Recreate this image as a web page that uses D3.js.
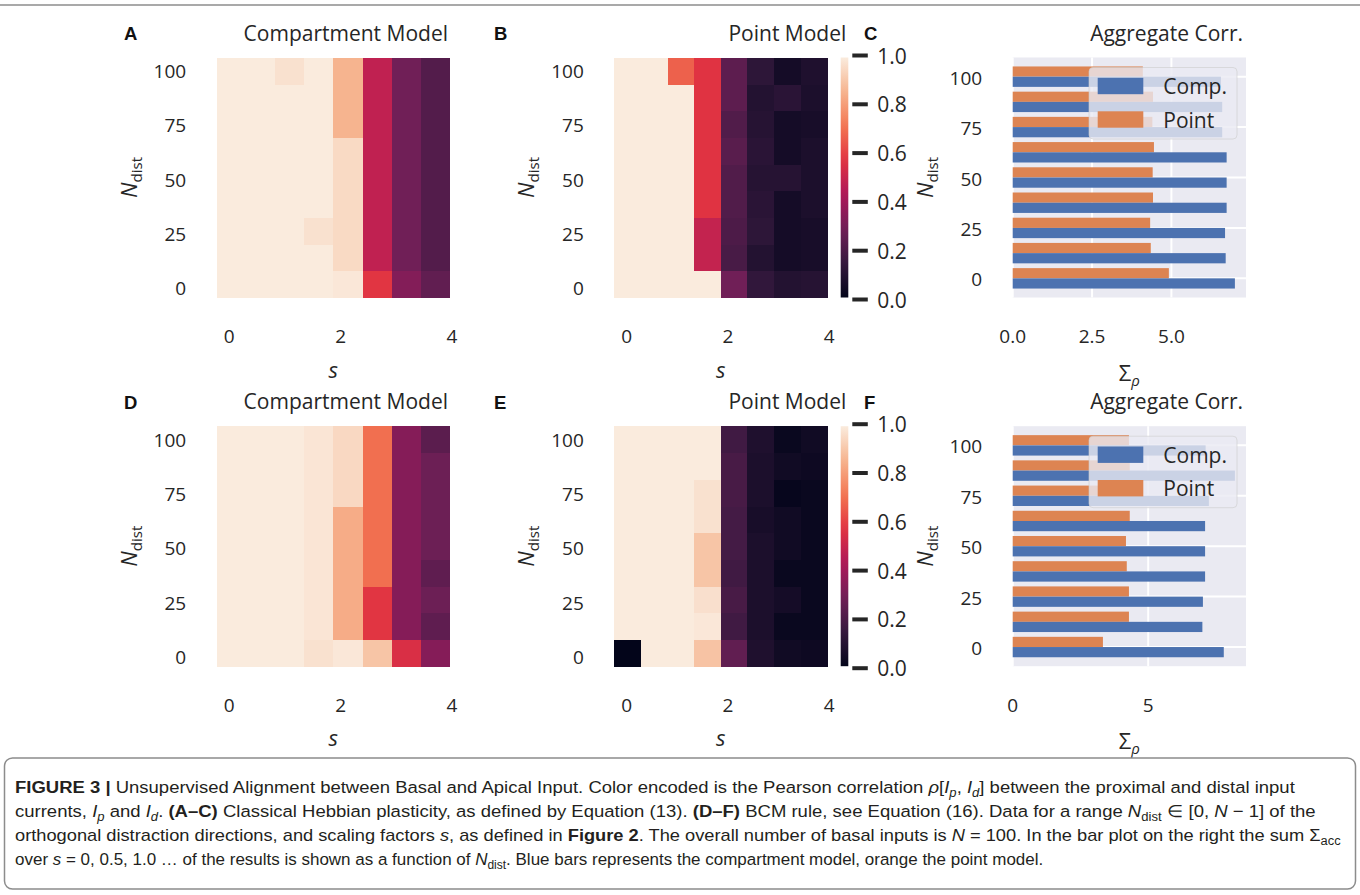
<!DOCTYPE html>
<html><head><meta charset="utf-8">
<script src="https://cdn.jsdelivr.net/npm/d3@7"></script>
<style>
body{margin:0;background:#fff}
svg{display:block}
text{font-family:"Open Sans","Noto Sans",sans-serif;fill:#262626}
</style>
</head><body><svg id="c" width="1360" height="895"></svg>
<script>
// ---------------- data ----------------
const sValues = [0, 0.5, 1, 1.5, 2, 2.5, 3, 3.5];
const nDist = [0, 12.5, 25, 37.5, 50, 62.5, 75, 87.5, 100];
const sTicks = [0, 2, 4];
const nTicks = [0, 25, 50, 75, 100];
const cbTicks = [0, 0.2, 0.4, 0.6, 0.8, 1.0];
const sumTicksC = [0, 2.5, 5.0];
const sumTicksF = [0, 5];
const seriesNames = ["Comp.", "Point"];

// correlation heatmaps; row i = nDist[i], column j = sValues[j]
const compHebbian = [
  [1, 1, 1, 1, 0.99, 0.575, 0.33, 0.25],
  [1, 1, 1, 1, 0.955, 0.48, 0.285, 0.215],
  [1, 1, 1, 0.975, 0.955, 0.48, 0.285, 0.215],
  [1, 1, 1, 1, 0.955, 0.48, 0.285, 0.215],
  [1, 1, 1, 1, 0.955, 0.48, 0.285, 0.215],
  [1, 1, 1, 1, 0.955, 0.48, 0.285, 0.215],
  [1, 1, 1, 1, 0.857, 0.48, 0.285, 0.215],
  [1, 1, 1, 1, 0.857, 0.48, 0.285, 0.215],
  [1, 1, 0.975, 1, 0.857, 0.48, 0.285, 0.215]
];
const pointHebbian = [
  [1, 1, 1, 1, 0.285, 0.13, 0.09, 0.10],
  [1, 1, 1, 0.49, 0.19, 0.09, 0.05, 0.06],
  [1, 1, 1, 0.49, 0.20, 0.12, 0.05, 0.06],
  [1, 1, 1, 0.57, 0.21, 0.11, 0.05, 0.07],
  [1, 1, 1, 0.57, 0.21, 0.10, 0.10, 0.07],
  [1, 1, 1, 0.57, 0.23, 0.11, 0.05, 0.07],
  [1, 1, 1, 0.57, 0.21, 0.10, 0.05, 0.06],
  [1, 1, 1, 0.57, 0.24, 0.09, 0.11, 0.07],
  [1, 1, 0.67, 0.57, 0.24, 0.12, 0.05, 0.08]
];
const compBCM = [
  [1, 1, 1, 0.975, 0.99, 0.90, 0.55, 0.335],
  [1, 1, 1, 0.985, 0.838, 0.575, 0.335, 0.245],
  [1, 1, 1, 0.985, 0.838, 0.575, 0.335, 0.275],
  [1, 1, 1, 0.985, 0.838, 0.70, 0.335, 0.245],
  [1, 1, 1, 0.985, 0.838, 0.70, 0.335, 0.275],
  [1, 1, 1, 0.985, 0.838, 0.70, 0.335, 0.275],
  [1, 1, 1, 0.985, 0.95, 0.70, 0.335, 0.275],
  [1, 1, 1, 0.985, 0.95, 0.70, 0.335, 0.275],
  [1, 1, 1, 0.985, 0.95, 0.70, 0.335, 0.235]
];
const pointBCM = [
  [0, 1, 1, 0.895, 0.25, 0.08, 0.04, 0.03],
  [1, 1, 1, 0.99, 0.17, 0.07, 0.02, 0.02],
  [1, 1, 1, 0.97, 0.19, 0.07, 0.05, 0.02],
  [1, 1, 1, 0.90, 0.17, 0.07, 0.02, 0.02],
  [1, 1, 1, 0.90, 0.18, 0.07, 0.04, 0.02],
  [1, 1, 1, 0.975, 0.18, 0.06, 0.04, 0.02],
  [1, 1, 1, 0.975, 0.19, 0.07, 0.01, 0.02],
  [1, 1, 1, 1, 0.19, 0.07, 0.04, 0.03],
  [1, 1, 1, 1, 0.17, 0.08, 0.02, 0.04]
];
// aggregate sums over s, per nDist
const sumCompHebbian = [7.0, 6.71, 6.69, 6.74, 6.74, 6.74, 6.60, 6.60, 6.56];
const sumPointHebbian = [4.92, 4.35, 4.33, 4.42, 4.41, 4.45, 4.40, 4.42, 4.10];
const sumCompBCM = [7.79, 7.0, 7.02, 7.10, 7.10, 7.10, 7.24, 8.2, 7.12];
const sumPointBCM = [3.33, 4.29, 4.29, 4.21, 4.18, 4.32, 4.30, 4.32, 4.29];

// ---------------- drawing ----------------
const svg = d3.select("#c");
const rocketColors = ["#03051a","#35193e","#701f57","#ad1759","#e13342","#f37651","#f6b48f","#faebdd"];
const rocket = d3.scaleSequential(d3.piecewise(d3.interpolateRgb, rocketColors)).domain([0, 1]);
const BLUE = "#4c72b0", ORANGE = "#dd8452";

// top rule
svg.append("line").attr("x1", 0).attr("x2", 1360).attr("y1", 5).attr("y2", 5)
  .attr("stroke", "#8c8c8c").attr("stroke-width", 1.5);

const H = 240;
const rowsY = [57.5, 426.2];
const colA = {x: 216.7, w: 233.3};
const colB = {x: 614.3, w: 213};
const colCb = {x: 840.7, w: 7.6};
const colC = {x: 1012.7, w: 233.3};

function ndistLabel(g, x, yc) {
  const t = g.append("text").attr("transform", `translate(${x},${yc}) rotate(-90)`)
    .attr("text-anchor", "middle").style("font-size", "22px");
  t.append("tspan").text("N").style("font-style", "italic");
  t.append("tspan").text("dist").attr("dy", 5).style("font-size", "15px");
}

function title(g, xr, y, txt) {
  g.append("text").attr("x", xr).attr("y", y).attr("text-anchor", "end")
    .style("font-size", "21px").text(txt);
}
function letter(g, x, y, txt) {
  g.append("text").attr("x", x).attr("y", y).text(txt)
    .style("font-family", "'Liberation Sans', Arial, sans-serif")
    .style("font-weight", "bold").style("font-size", "18.5px").style("fill", "#111");
}

function heatmap(data, col, y0) {
  const g = svg.append("g");
  const x = d3.scaleBand().domain(sValues).range([col.x, col.x + col.w]);
  const y = d3.scaleBand().domain(nDist).range([y0 + H, y0]);
  data.forEach((row, i) => row.forEach((v, j) => {
    g.append("rect").attr("x", x(sValues[j])).attr("y", y(nDist[i]))
      .attr("width", x.bandwidth() + 0.4).attr("height", y.bandwidth() + 0.4)
      .attr("fill", rocket(v)).attr("shape-rendering", "crispEdges");
  }));
  const sTick = d3.scaleLinear().domain([0, 4]).range([col.x + 12.5, col.x + col.w + 2]);
  const nTick = d3.scaleLinear().domain([0, 100])
    .range([y(0) + y.bandwidth() / 2 + 4, y(100) + y.bandwidth() / 2]);
  sTicks.forEach(s => g.append("text").attr("x", sTick(s)).attr("y", y0 + H + 45.5)
    .attr("text-anchor", "middle").style("font-size", "19px").text(s));
  nTicks.forEach(n => g.append("text").attr("x", col.x - 30.5).attr("y", nTick(n))
    .attr("text-anchor", "end").attr("dominant-baseline", "central").style("font-size", "19px").text(n));
  g.append("text").attr("x", col.x + col.w / 2).attr("y", y0 + H + 80)
    .attr("text-anchor", "middle").style("font-size", "22px").style("font-style", "italic").text("s");
  ndistLabel(g, col.x - 80, y0 + H / 2);
  return g;
}

function colorbar(col, y0, id) {
  const g = svg.append("g");
  const grad = svg.append("defs").append("linearGradient").attr("id", id)
    .attr("x1", 0).attr("x2", 0).attr("y1", 1).attr("y2", 0);
  d3.range(0, 1.0001, 0.05).forEach(t => grad.append("stop")
    .attr("offset", t).attr("stop-color", rocket(t)));
  g.append("rect").attr("x", col.x).attr("y", y0).attr("width", col.w).attr("height", H)
    .attr("fill", `url(#${id})`);
  const cy = d3.scaleLinear().domain([0, 1]).range([y0 + H + 2, y0 - 2]);
  cbTicks.forEach(v => {
    g.append("line").attr("x1", col.x + col.w + 4).attr("x2", col.x + col.w + 19.5)
      .attr("y1", cy(v)).attr("y2", cy(v)).attr("stroke", "#262626").attr("stroke-width", 4);
    g.append("text").attr("x", col.x + col.w + 29).attr("y", cy(v))
      .attr("dominant-baseline", "central").style("font-size", "21px").text(v.toFixed(1));
  });
}

function barchart(comp, point, ticks, y0) {
  const g = svg.append("g");
  const col = colC;
  const y = d3.scaleBand().domain(nDist.slice().reverse()).range([y0, y0 + H])
    .paddingInner(0.19).paddingOuter(0.355);
  const sub = d3.scaleBand().domain(["Point", "Comp."]).range([0, y.bandwidth()]);
  const x = d3.scaleLinear().domain([0, d3.max(comp.concat(point)) * 1.05]).range([col.x, col.x + col.w]);
  g.append("rect").attr("x", col.x).attr("y", y0).attr("width", col.w).attr("height", H).attr("fill", "#eaeaf2");
  ticks.forEach(t => g.append("line").attr("x1", x(t)).attr("x2", x(t)).attr("y1", y0).attr("y2", y0 + H)
    .attr("stroke", "#fff").attr("stroke-width", 2));
  nTicks.forEach(n => g.append("line").attr("x1", col.x).attr("x2", col.x + col.w)
    .attr("y1", y(n) + y.bandwidth() / 2).attr("y2", y(n) + y.bandwidth() / 2)
    .attr("stroke", "#fff").attr("stroke-width", 2));
  nDist.forEach((n, i) => {
    g.append("rect").attr("x", x(0)).attr("y", y(n) + sub("Point"))
      .attr("width", x(point[i]) - x(0)).attr("height", sub.bandwidth()).attr("fill", ORANGE);
    g.append("rect").attr("x", x(0)).attr("y", y(n) + sub("Comp."))
      .attr("width", x(comp[i]) - x(0)).attr("height", sub.bandwidth()).attr("fill", BLUE);
  });
  ticks.forEach(t => g.append("text").attr("x", x(t)).attr("y", y0 + H + 45.5)
    .attr("text-anchor", "middle").style("font-size", "19px")
    .text(ticks.some(v => v % 1) ? t.toFixed(1) : t));
  nTicks.forEach(n => g.append("text").attr("x", col.x - 30.5).attr("y", y(n) + y.bandwidth() / 2 + 1)
    .attr("text-anchor", "end").attr("dominant-baseline", "central").style("font-size", "19px").text(n));
  const xl = g.append("text").attr("x", col.x + col.w / 2).attr("y", y0 + H + 83)
    .attr("text-anchor", "middle").style("font-size", "22px");
  xl.append("tspan").text("Σ");
  xl.append("tspan").text("ρ").attr("dy", 5).style("font-size", "15px").style("font-style", "italic");
  ndistLabel(g, col.x - 80, y0 + H / 2);
  // legend
  const lx = col.x + col.w - 157, ly = y0 + 10;
  g.append("rect").attr("x", lx).attr("y", ly).attr("width", 148).attr("height", 71.5).attr("rx", 4)
    .attr("fill", "#eaeaf2").attr("fill-opacity", 0.8).attr("stroke", "#cccccc").attr("stroke-opacity", 0.6);
  [[seriesNames[0], BLUE, 28.5], [seriesNames[1], ORANGE, 62]].forEach(([nm, c, dy]) => {
    g.append("rect").attr("x", lx + 8.7).attr("y", y0 + dy - 8.2).attr("width", 45.6).attr("height", 16.4).attr("fill", c);
    g.append("text").attr("x", lx + 74.3).attr("y", y0 + dy).attr("dominant-baseline", "central")
      .style("font-size", "21px").text(nm);
  });
}

const panels = [
  {y0: rowsY[0], comp: compHebbian, point: pointHebbian, sc: sumCompHebbian, sp: sumPointHebbian, ticks: sumTicksC, L: ["A","B","C"]},
  {y0: rowsY[1], comp: compBCM, point: pointBCM, sc: sumCompBCM, sp: sumPointBCM, ticks: sumTicksF, L: ["D","E","F"]}
];
panels.forEach((p, k) => {
  const g = svg.append("g");
  heatmap(p.comp, colA, p.y0);
  heatmap(p.point, colB, p.y0);
  colorbar(colCb, p.y0, "cb" + k);
  barchart(p.sc, p.sp, p.ticks, p.y0);
  title(g, colA.x + colA.w - 2, p.y0 - 17, "Compartment Model");
  title(g, colCb.x + colCb.w - 2, p.y0 - 17, "Point Model");
  title(g, colC.x + colC.w - 3, p.y0 - 17, "Aggregate Corr.");
  letter(g, 124, p.y0 - 17.5, p.L[0]);
  letter(g, 494, p.y0 - 17.5, p.L[1]);
  letter(g, 864, p.y0 - 17.5, p.L[2]);
});

// ---------------- caption ----------------
svg.append("rect").attr("x", 4.5).attr("y", 758).attr("width", 1351).attr("height", 131).attr("rx", 8)
  .attr("fill", "none").attr("stroke", "#8c8c8c").attr("stroke-width", 1.5);
const capLines = [
  {y: 793, w: 1281, seg: [
    {t: "FIGURE 3 | ", b: 1}, {t: "Unsupervised Alignment between Basal and Apical Input. Color encoded is the Pearson correlation "},
    {t: "ρ", i: 1}, {t: "["}, {t: "I", i: 1}, {t: "p", i: 1, sub: 1}, {t: ", "}, {t: "I", i: 1}, {t: "d", i: 1, sub: 1},
    {t: "] between the proximal and distal input"}]},
  {y: 817, w: 1301, seg: [
    {t: "currents, "}, {t: "I", i: 1}, {t: "p", i: 1, sub: 1}, {t: " and "}, {t: "I", i: 1}, {t: "d", i: 1, sub: 1}, {t: ". "},
    {t: "(A–C)", b: 1}, {t: " Classical Hebbian plasticity, as defined by Equation (13). "}, {t: "(D–F)", b: 1},
    {t: " BCM rule, see Equation (16). Data for a range "}, {t: "N", i: 1}, {t: "dist", sub: 1},
    {t: " ∈ [0, "}, {t: "N", i: 1}, {t: " − 1] of the"}]},
  {y: 841, w: 1327, seg: [
    {t: "orthogonal distraction directions, and scaling factors "}, {t: "s", i: 1}, {t: ", as defined in "},
    {t: "Figure 2", b: 1}, {t: ". The overall number of basal inputs is "}, {t: "N", i: 1},
    {t: " = 100. In the bar plot on the right the sum Σ"}, {t: "acc", sub: 1}]},
  {y: 865, w: 1029, seg: [
    {t: "over "}, {t: "s", i: 1}, {t: " = 0, 0.5, 1.0 … of the results is shown as a function of "}, {t: "N", i: 1},
    {t: "dist", sub: 1}, {t: ". Blue bars represents the compartment model, orange the point model."}]}
];
capLines.forEach(line => {
  const g = svg.append("g");
  const t = g.append("text").attr("x", 0).attr("y", 0)
    .style("font-family", "'Liberation Sans Narrow','Liberation Sans',Arial,sans-serif")
    .style("font-size", "17px").style("fill", "#231f20");
  let shifted = false;
  line.seg.forEach(s => {
    const ts = t.append("tspan").text(s.t);
    if (s.b) ts.style("font-weight", "bold");
    if (s.i) ts.style("font-style", "italic");
    if (s.sub && !shifted) { ts.attr("dy", 4); shifted = true; }
    else if (!s.sub && shifted) { ts.attr("dy", -4); shifted = false; }
    if (s.sub) ts.style("font-size", "12px");
  });
  const len = t.node().getComputedTextLength();
  g.attr("transform", `translate(15,${line.y}) scale(${line.w / len},1)`);
});
</script>
</body></html>
